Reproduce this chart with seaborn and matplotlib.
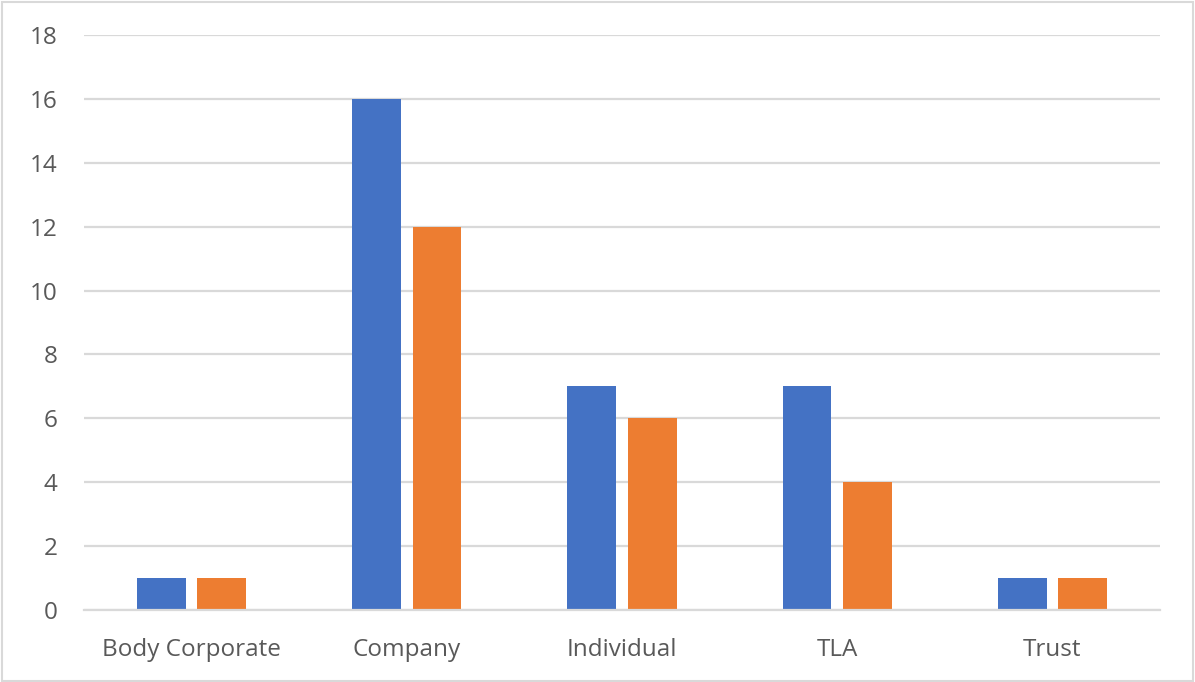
import matplotlib
matplotlib.use("Agg")
import matplotlib.pyplot as plt
import seaborn as sns
import pandas as pd
from matplotlib.patches import Rectangle

categories = ["Body Corporate", "Company", "Individual", "TLA", "Trust"]
series_a = [1, 16, 7, 7, 1]
series_b = [1, 12, 6, 4, 1]
series_names = ["Series1", "Series2"]
y_ticks = [0, 2, 4, 6, 8, 10, 12, 14, 16, 18]

df = pd.DataFrame({
    "category": categories * 2,
    "value": series_a + series_b,
    "series": [series_names[0]] * len(categories) + [series_names[1]] * len(categories),
})

sns.set_theme(style="white")
plt.rcParams["font.family"] = ["Open Sans", "DejaVu Sans"]

fig = plt.figure(figsize=(11.95, 6.82), dpi=100)
ax = fig.add_axes([84 / 1195, 1 - 610 / 682, (1160 - 84) / 1195, (610 - 35) / 682])

sns.barplot(
    data=df, x="category", y="value", hue="series",
    palette=["#4472C4", "#ED7D31"], width=0.56, gap=0.19,
    ax=ax, legend=False, saturation=1, linewidth=0,
)

ax.set_ylim(0, 18)
ax.set_xlim(-0.5, len(categories) - 0.5)
ax.set_yticks(y_ticks)
ax.yaxis.grid(True, color="#D9D9D9", linewidth=1.6)
ax.set_axisbelow(True)
for s in ["top", "right", "left"]:
    ax.spines[s].set_visible(False)
ax.spines["bottom"].set_color("#D9D9D9")
ax.spines["bottom"].set_linewidth(1.6)
ax.set_xlabel("")
ax.set_ylabel("")
ax.tick_params(axis="both", length=0, labelsize=17.5, labelcolor="#595959")
ax.tick_params(axis="y", pad=19)
ax.tick_params(axis="x", pad=20)

fig.patches.append(Rectangle((0.002, 0.002), 0.996, 0.995, transform=fig.transFigure,
                             fill=False, edgecolor="#D9D9D9", linewidth=1.5))

fig.savefig("out.png", dpi=100)
